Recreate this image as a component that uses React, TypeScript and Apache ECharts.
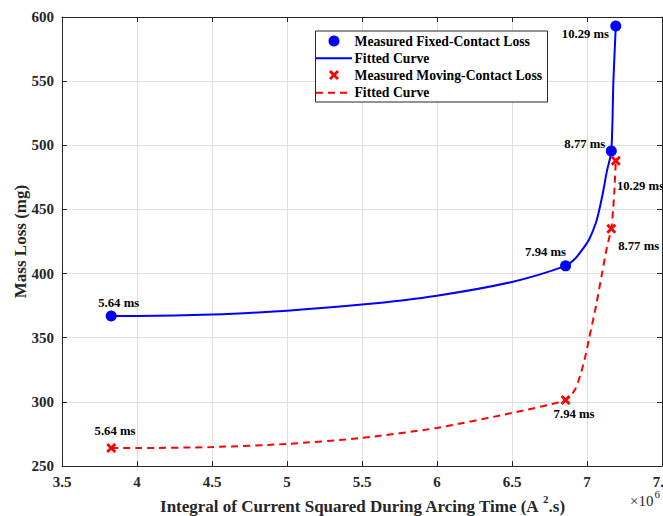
import React, { useEffect, useRef } from "react";
import * as echarts from "echarts";

// ---- data ----
const arcTimes = ["5.64 ms", "7.94 ms", "8.77 ms", "10.29 ms"];
const integralI2t = [3.828, 6.857, 7.162, 7.192]; // x 10^6 A^2.s
const fixedLoss = [367, 406, 495.5, 593]; // mg
const movingLoss = [264, 301.5, 435, 488]; // mg

const fixedFitX = [3.828, 4.0, 4.5, 5.0, 5.5, 6.0, 6.5, 6.857, 6.92, 6.971, 7.015, 7.06, 7.082, 7.111, 7.131, 7.162, 7.176, 7.192];
const fixedFitY = [367, 367, 368, 371.1, 375.8, 382.8, 393.5, 406, 411.5, 419, 426.8, 439.8, 449.7, 465.9, 478.9, 495.5, 550, 593];

const movingFitX = [3.828, 4.0, 4.5, 5.0, 5.5, 6.0, 6.5, 6.857, 6.92, 6.96, 6.989, 7.015, 7.06, 7.1, 7.132, 7.162, 7.174, 7.183, 7.192];
const movingFitY = [264, 264, 264.8, 267.2, 271.9, 279.7, 291.4, 301.5, 309.6, 322.7, 335.6, 350, 374.7, 400, 420, 435, 449.7, 465.9, 488];

const legendLabels = [
  "Measured Fixed-Contact Loss",
  "Fitted Curve",
  "Measured Moving-Contact Loss",
  "Fitted Curve",
];

// ---- label placement (style, not data) ----
const fixedLabelOffsets = [[7.5, -13], [-20, -14], [-26.5, -7.5], [-30.4, 8]];
const movingLabelOffsets = [[3.8, -16.7], [8.5, 13.6], [27.4, 17.7], [24.7, 25]];

const FONT = "'Liberation Serif', 'Times New Roman', serif";
const BLUE = "#0000ff";
const RED = "#ff0000";
const AX = "#262626";
const GRID = "#dfdfdf";
const XMARK = "path://M0,2L2,0L5,3L8,0L10,2L7,5L10,8L8,10L5,7L2,10L0,8L3,5Z";
const XPTS = [[0, 2], [2, 0], [5, 3], [8, 0], [10, 2], [7, 5], [10, 8], [8, 10], [5, 7], [2, 10], [0, 8], [3, 5]];

export default function App() {
  const ref = useRef<HTMLDivElement>(null);
  useEffect(() => {
    if (!ref.current) return;
    const chart = echarts.init(ref.current, undefined, { renderer: "svg" });

    const labelBase = {
      show: true,
      position: "inside" as const,
      color: "#000",
      fontFamily: FONT,
      fontWeight: "bold" as const,
      fontSize: 12.7,
      textBorderWidth: 0,
    };

    const axisCommon = {
      axisLine: { show: true, lineStyle: { color: AX, width: 1 } },
      axisTick: { show: true, inside: true, length: 5, lineStyle: { color: AX } },
    };

    const legendY = [41, 58.3, 75, 92.7];
    const lx0 = 316, lx1 = 352, lmx = 334, ltx = 354.5;
    const legendGraphic: any[] = [
      {
        type: "rect",
        shape: { x: 315.5, y: 31, width: 232, height: 71 },
        style: { fill: "#fff", stroke: AX, lineWidth: 1 },
        z: 100,
      },
      { type: "circle", shape: { cx: lmx, cy: legendY[0], r: 5.5 }, style: { fill: BLUE }, z: 101 },
      { type: "line", shape: { x1: lx0, y1: legendY[1], x2: lx1, y2: legendY[1] }, style: { stroke: BLUE, lineWidth: 2 }, z: 101 },
      {
        type: "polygon",
        shape: { points: XPTS.map(([a, b]) => [lmx - 5 + a, legendY[2] - 5 + b]) },
        style: { fill: RED },
        z: 101,
      },
      {
        type: "line",
        shape: { x1: lx0, y1: legendY[3], x2: lx1, y2: legendY[3] },
        style: { stroke: RED, lineWidth: 2, lineDash: [7, 5] },
        z: 101,
      },
      ...legendLabels.map((t, i) => ({
        type: "text",
        x: ltx,
        y: legendY[i],
        style: {
          text: t,
          font: `bold 13.7px ${FONT}`,
          fill: "#000",
          verticalAlign: "middle",
        },
        z: 101,
      })),
      {
        type: "text",
        x: 630,
        y: 501,
        style: { text: "×10", font: `15px ${FONT}`, fill: AX, verticalAlign: "middle" },
        z: 101,
      },
      {
        type: "text",
        x: 654.5,
        y: 494,
        style: { text: "6", font: `11px ${FONT}`, fill: AX, verticalAlign: "middle" },
        z: 101,
      },
    ];

    chart.setOption({
      animation: false,
      backgroundColor: "#fff",
      grid: { left: 62, right: 1, top: 17, bottom: 50, containLabel: false, outerBoundsMode: "none" },
      xAxis: [
        {
          type: "value",
          min: 3.5,
          max: 7.5,
          interval: 0.5,
          position: "bottom",
          ...axisCommon,
          splitLine: { show: true, lineStyle: { color: GRID, width: 1 } },
          axisLabel: {
            color: AX,
            fontFamily: FONT,
            fontWeight: "bold",
            fontSize: 15,
            margin: 8,
            formatter: (v: number) => String(v),
          },
          name: "Integral of Current Squared During Arcing Time (A {sup|2}.s)",
          nameLocation: "middle",
          nameGap: 25,
          nameTextStyle: {
            color: AX,
            fontFamily: FONT,
            fontWeight: "bold",
            fontSize: 17,
            lineHeight: 26,
            rich: {
              sup: {
                fontFamily: FONT,
                fontWeight: "bold",
                fontSize: 11,
                color: AX,
                lineHeight: 11,
                verticalAlign: "top",
              },
            },
          },
        },
        {
          type: "value",
          min: 3.5,
          max: 7.5,
          interval: 0.5,
          position: "top",
          ...axisCommon,
          splitLine: { show: false },
          axisLabel: { show: false },
        },
      ],
      yAxis: [
        {
          type: "value",
          min: 250,
          max: 600,
          interval: 50,
          position: "left",
          ...axisCommon,
          splitLine: { show: true, lineStyle: { color: GRID, width: 1 } },
          axisLabel: {
            color: AX,
            fontFamily: FONT,
            fontWeight: "bold",
            fontSize: 15,
            margin: 8,
          },
          name: "Mass Loss (mg)",
          nameLocation: "middle",
          nameGap: 33,
          nameMoveOverlap: false,
          nameTextStyle: { color: AX, fontFamily: FONT, fontWeight: "bold", fontSize: 17 },
        },
        {
          type: "value",
          min: 250,
          max: 600,
          interval: 50,
          position: "right",
          ...axisCommon,
          splitLine: { show: false },
          axisLabel: { show: false },
        },
      ],
      graphic: legendGraphic,
      series: [
        {
          name: "Fitted Curve (fixed)",
          type: "line",
          data: fixedFitX.map((x, i) => [x, fixedFitY[i]]),
          showSymbol: false,
          symbol: "none",
          smooth: 0.25,
          lineStyle: { color: BLUE, width: 2 },
          z: 2,
        },
        {
          name: "Fitted Curve (moving)",
          type: "line",
          data: movingFitX.map((x, i) => [x, movingFitY[i]]),
          showSymbol: false,
          symbol: "none",
          smooth: 0.25,
          lineStyle: { color: RED, width: 2, type: [7, 5] },
          z: 2,
        },
        {
          name: "Measured Fixed-Contact Loss",
          type: "scatter",
          symbol: "circle",
          symbolSize: 11,
          itemStyle: { color: BLUE, opacity: 1 },
          data: integralI2t.map((x, i) => ({
            value: [x, fixedLoss[i]],
            label: { offset: fixedLabelOffsets[i] },
          })),
          label: { ...labelBase, formatter: (p: any) => arcTimes[p.dataIndex] },
          z: 3,
        },
        {
          name: "Measured Moving-Contact Loss",
          type: "scatter",
          symbol: XMARK,
          symbolSize: 10,
          itemStyle: { color: RED, opacity: 1 },
          data: integralI2t.map((x, i) => ({
            value: [x, movingLoss[i]],
            label: { offset: movingLabelOffsets[i] },
          })),
          label: { ...labelBase, formatter: (p: any) => arcTimes[p.dataIndex] },
          z: 3,
        },
      ],
    });
    return () => chart.dispose();
  }, []);
  return (
    <div
      ref={ref}
      style={{ position: "absolute", left: 0, top: 0, width: 663, height: 516, background: "#fff" }}
    />
  );
}
